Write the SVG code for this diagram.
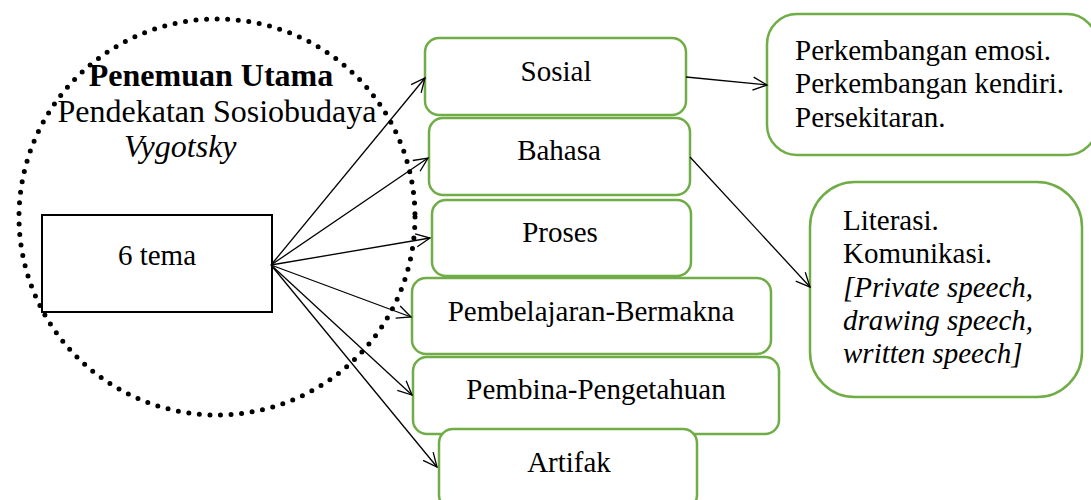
<svg xmlns="http://www.w3.org/2000/svg" width="1091" height="500" viewBox="0 0 1091 500" font-family="'Liberation Serif', 'Times New Roman', 'DejaVu Serif', serif">
<style>
text{font-family:'Liberation Serif','Times New Roman','DejaVu Serif',serif;fill:#000}
.t{font-size:29px}
.h{font-size:32px}
.c{text-anchor:middle}
.g{fill:#fff;stroke:#70AD47;stroke-width:2.5}
.a{fill:none;stroke:#000;stroke-width:1.3;marker-end:url(#ah)}
</style>
<defs>
<marker id="ah" markerUnits="userSpaceOnUse" markerWidth="18" markerHeight="16" refX="15" refY="7.5" orient="auto">
<path d="M1,1 L15,7.5 L1,14" fill="none" stroke="#000" stroke-width="1.3"/>
</marker>
</defs>
<rect width="1091" height="500" fill="#fff"/>
<g id="circle">
<circle cx="217" cy="217" r="198" fill="none" stroke="#000" stroke-width="5" stroke-linecap="round" stroke-dasharray="0 10.6"/>
<text class="h c" x="211" y="86" font-weight="bold">Penemuan Utama</text>
<text class="h c" x="217" y="122">Pendekatan Sosiobudaya</text>
<text class="h" x="124" y="157" font-style="italic">Vygotsky</text>
</g>
<g id="tema">
<rect x="42" y="215" width="230" height="97" fill="#fff" stroke="#000" stroke-width="2"/>
<text class="t c" x="157" y="265">6 tema</text>
</g>
<g id="sosial">
<rect class="g" x="425" y="38" width="261" height="77" rx="14"/>
<text class="t c" x="556" y="81">Sosial</text>
</g>
<g id="bahasa">
<rect class="g" x="429" y="118" width="261" height="77" rx="14"/>
<text class="t c" x="559" y="160">Bahasa</text>
</g>
<g id="proses">
<rect class="g" x="432" y="200" width="259" height="76" rx="14"/>
<text class="t c" x="560" y="242">Proses</text>
</g>
<g id="pembelajaran">
<rect class="g" x="412" y="278" width="359" height="76" rx="14"/>
<text class="t c" x="591" y="321">Pembelajaran-Bermakna</text>
</g>
<g id="pembina">
<rect class="g" x="413" y="357" width="366" height="77" rx="14"/>
<text class="t c" x="596" y="399">Pembina-Pengetahuan</text>
</g>
<g id="artifak">
<rect class="g" x="439" y="429" width="258" height="80" rx="14"/>
<text class="t c" x="569" y="472">Artifak</text>
</g>
<g id="sosial-detail">
<rect class="g" x="767" y="14" width="330" height="141" rx="30"/>
<text class="t" x="795" y="60">Perkembangan emosi.</text>
<text class="t" x="795" y="93">Perkembangan kendiri.</text>
<text class="t" x="795" y="127">Persekitaran.</text>
</g>
<g id="bahasa-detail">
<rect class="g" x="810" y="182" width="272" height="215" rx="45"/>
<text class="t" x="843" y="230">Literasi.</text>
<text class="t" x="843" y="263">Komunikasi.</text>
<text class="t" x="843" y="297" font-style="italic">[Private speech,</text>
<text class="t" x="843" y="330" font-style="italic">drawing speech,</text>
<text class="t" x="843" y="363" font-style="italic">written speech]</text>
</g>
<g id="connectors">
<path class="a" d="M271,265 L425,78"/>
<path class="a" d="M271,265 L428,158"/>
<path class="a" d="M271,265 L430,238"/>
<path class="a" d="M271,265 L411,317"/>
<path class="a" d="M271,265 L412,395"/>
<path class="a" d="M271,265 L437,467"/>
<path class="a" d="M686,77 L767,85"/>
<path class="a" d="M690,157 L810,287"/>
</g>
</svg>
